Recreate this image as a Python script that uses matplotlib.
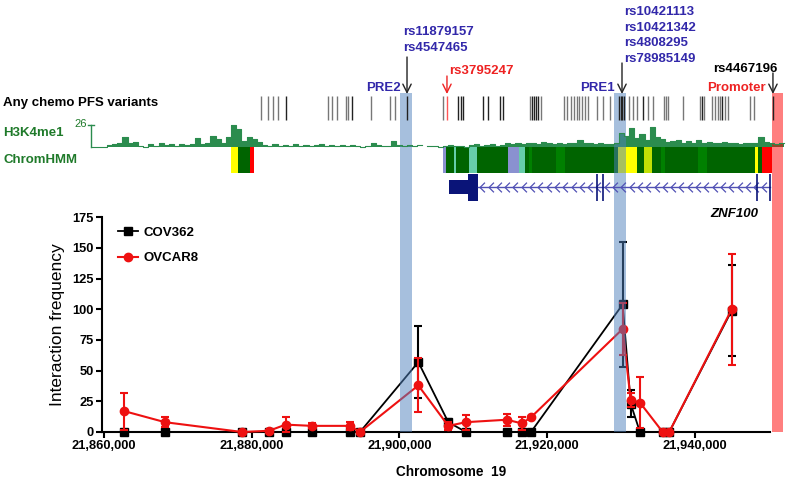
import matplotlib
matplotlib.use("Agg")
import matplotlib.pyplot as plt
import numpy as np
from matplotlib.patches import Rectangle
from matplotlib.path import Path
from matplotlib.ticker import FuncFormatter, MultipleLocator

plt.rcParams["font.family"] = ["Liberation Sans", "DejaVu Sans"]

W, H = 793, 483

# 3C interaction frequencies along chr19
positions = [21862750, 21868260, 21878690, 21882340, 21884600, 21888200, 21893310, 21894660,
             21902560, 21906620, 21909010, 21914530, 21916600, 21917820, 21930230, 21931320,
             21932570, 21935650, 21936540, 21944990]
cov362 = [0, 0, 0, 0, 0, 0, 0, 0, 57, 8, 0, 0, 0, 0, 104, 23, 0, 0, 0, 99]
cov362_err = [0, 0, 0, 0, 0, 0, 0, 0, 29, 3, 0, 0, 0, 0, 51, 11, 0, 0, 0, 37]
ovcar8 = [17, 8, 0, 1, 6, 5, 5, 0, 38, 5, 8, 10, 7, 12, 84, 26, 24, 0, 0, 100]
ovcar8_err = [15, 4, 0, 1, 6, 2, 3, 0, 22, 3, 6, 5, 5, 0, 21, 6, 21, 0, 0, 45]

# variant track
pfs_variants_grey = [21881260, 21882210, 21882880, 21883560, 21890330, 21890870, 21891550, 21892770,
                     21893040, 21896150, 21898720, 21899400, 21905900, 21917680, 21919170, 21922280,
                     21922690, 21923230, 21923640, 21924040, 21924320, 21924720, 21925130, 21925530,
                     21926750, 21927560, 21928510, 21931080, 21931630, 21932170, 21933660, 21934330,
                     21935820, 21936090, 21936370, 21938400, 21940700, 21941240, 21942320, 21942730,
                     21943140, 21943410, 21944080, 21944490, 21947470, 21948010]
pfs_variants_black = [21884640, 21893580, 21901030, 21907930, 21908340, 21908610, 21911320, 21911990,
                      21913620, 21914020, 21917950, 21918220, 21918490, 21918760, 21929730, 21930000,
                      21930140, 21930410, 21932980, 21940970, 21943680, 21950580]
rs3795247_pos = 21906440

pre2_snps = ["rs11879157", "rs4547465"]
pre2_snp_pos = 21901030
pre1_snps = ["rs10421113", "rs10421342", "rs4808295", "rs78985149"]
pre1_snp_pos = 21930140
rs4467196_pos = 21950580

pre2_band = (21900080, 21901700)
pre1_band = (21928990, 21930680)
promoter_band = (21950410, 21951980)

# H3K4me1 signal, 700 bp bins
h3k4me1_start = 21858300
h3k4me1_bin = 700
h3k4me1 = [0, 0, 0, 2, 3, 5, 12, 4, 6, 1,
           0, 3, 1, 4, 2, 3, 1, 3, 2, 3,
           11, 3, 5, 13, 9, 4, 12, 26, 21, 7,
           12, 9, 6, 2, 1, 3, 1, 2, 1, 3,
           1, 2, 1, 2, 3, 1, 2, 1, 2, 1,
           2, 1, 0, 1, 4, 2, 1, 1, 7, 2,
           1, 2, 1, 2, None, 1, 1, 0, 1, 2,
           1, 1, 0, 2, 3, 1, 2, 3, 1, 2,
           4, 3, 5, 3, 4, 5, 3, 6, 4, 3,
           5, 3, 5, 4, 8, 5, 4, 3, 5, 3,
           3, 5, 16, 13, 22, 10, 15, 8, 24, 12,
           9, 6, 7, 8, 5, 7, 5, 8, 4, 6,
           5, 4, 6, 4, 5, 3, 5, 4, 5, 12,
           6, 4, 3, 4]
h3k4me1_max = 26

# ChromHMM segments
chromhmm_start = [21877155, 21878144, 21879728, 21905940, 21906270, 21907430, 21907660, 21909420,
                  21910500, 21914700, 21916260, 21917000, 21917550, 21917990, 21921160, 21922420,
                  21929640, 21932210, 21933160, 21934160, 21935420, 21935960, 21940470, 21941610,
                  21948150, 21948510, 21949130]
chromhmm_end = chromhmm_start[1:3] + [21880269] + chromhmm_start[4:] + [21950410]
chromhmm_state = ["Enh", "TxWk", "TssA", "Het", "TxWk", "ZNF", "TxWk", "ZNF",
                  "TxWk", "Het", "ZNF", "TxWk", "Tx", "TxWk", "Tx", "TxWk",
                  "Enh", "TxWk", "EnhG", "TxWk", "Tx", "TxWk", "Tx", "TxWk",
                  "Enh", "TxWk", "TssA"]
state_colors = {"TssA": "#ff0000", "Tx": "#008000", "TxWk": "#006400", "EnhG": "#c2e105",
                "Enh": "#ffff00", "ZNF": "#66cdaa", "Het": "#8a91d0"}

# ZNF100 gene model (minus strand)
znf100_utr = (21906710, 21909330)
znf100_exon = (21909330, 21910680)
znf100_thin_exons = [21926710, 21927605, 21948380, 21950180]
znf100_end = 21950180

GREEN = "#1f7a2a"
SIG_GREEN = "#2b8c4e"
BLUE_TXT = "#3228aa"
RED_TXT = "#ee2222"
NAVY = "#0a1478"

fig = plt.figure(figsize=(W / 100, H / 100), dpi=100)
ax = fig.add_axes([102 / W, 1 - 432 / H, 668 / W, 214.7 / H])


def fxy(px, py):
    return px / W, 1 - py / H


# --- main interaction plot ---
ax.errorbar(positions, cov362, yerr=cov362_err, fmt="none", ecolor="black",
            elinewidth=1.5, capsize=2.6, capthick=1.5, zorder=3)
l1, = ax.plot(positions, cov362, "-s", color="black", lw=1.3, ms=5.8, label="COV362", zorder=3)
ax.errorbar(positions, ovcar8, yerr=ovcar8_err, fmt="none", ecolor="#ee1111",
            elinewidth=1.5, capsize=2.6, capthick=1.5, zorder=4)
l2, = ax.plot(positions, ovcar8, "-o", color="#ee1111", lw=1.5, ms=6, label="OVCAR8", zorder=4)
for art in ax.lines + ax.collections:
    art.set_clip_on(False)

ax.set_xlim(21859730, 21950180)
ax.set_ylim(0, 175)
ax.yaxis.set_major_locator(MultipleLocator(25))
ax.xaxis.set_major_locator(MultipleLocator(20000))
ax.xaxis.set_major_formatter(FuncFormatter(lambda v, p: f"{v:,.0f}"))
for s in ["top", "right"]:
    ax.spines[s].set_visible(False)
for s in ["left", "bottom"]:
    ax.spines[s].set_linewidth(1.5)
ax.tick_params(width=1.5, length=4, labelsize=9.3, pad=2)
for lab in ax.get_xticklabels() + ax.get_yticklabels():
    lab.set_fontweight("bold")
ax.patch.set_alpha(0)

ax.set_ylabel("Interaction frequency", fontsize=12.5, va="center")
ax.yaxis.set_label_coords((58 - 102) / 668, 0.5)
ax.set_xlabel("Chromosome  19", fontsize=9.8, fontweight="bold", va="center")
ax.xaxis.set_label_coords((451 - 102) / 668, (432 - 472) / 214.7)

ax.legend(handles=[l1, l2], loc="upper left", bbox_to_anchor=(0.024, 0.957), frameon=False,
          borderpad=0, borderaxespad=0, handlelength=1.5, handletextpad=0.4, labelspacing=1.0,
          prop={"weight": "bold", "size": 9.5})

# --- overlay for genome tracks (x in bp, y in pixels from top) ---
x0, x1 = ax.get_xlim()
bpp = (x1 - x0) / 668
trk = fig.add_axes([0, 0, 1, 1], zorder=5)
trk.set_xlim(x0 - 102 * bpp, x1 + (W - 770) * bpp)
trk.set_ylim(H, 0)
trk.axis("off")

# variants
trk.vlines(pfs_variants_grey, 96, 120, color="#777777", lw=1.0)
trk.vlines(pfs_variants_black, 96, 120, color="#222222", lw=1.0)
trk.vlines([rs3795247_pos], 96, 120, color="#ff5555", lw=1.0)

# H3K4me1
base = 146.7
scale = 21.7 / h3k4me1_max
vals = np.array([np.nan if v is None else v for v in h3k4me1], dtype=float)
edges = h3k4me1_start + h3k4me1_bin * np.arange(len(vals) + 1)
yv = np.append(vals, vals[-1])
top = base - yv * scale
ok = ~np.isnan(yv)
trk.fill_between(edges, base, np.where(ok, top, base), where=ok, step="post", color=SIG_GREEN, lw=0)
trk.step(edges, top, where="post", color=SIG_GREEN, lw=0.8)
trk.plot([h3k4me1_start, h3k4me1_start], [125, base], color=SIG_GREEN, lw=1.0)
trk.plot([h3k4me1_start - 3 * bpp, h3k4me1_start + 3 * bpp], [125, 125], color=SIG_GREEN, lw=1.0)

# ChromHMM
for s, e, st in zip(chromhmm_start, chromhmm_end, chromhmm_state):
    trk.add_patch(Rectangle((s, 147), e - s, 26, color=state_colors[st], lw=0))

# gene model
trk.add_patch(Rectangle((znf100_utr[0], 180), znf100_utr[1] - znf100_utr[0], 13.5, color=NAVY, lw=0))
trk.add_patch(Rectangle((znf100_exon[0], 174), znf100_exon[1] - znf100_exon[0], 27, color=NAVY, lw=0))
trk.plot([znf100_exon[1], znf100_end], [187, 187], color="#5050b4", lw=1.0)
chev = Path([(0.5, 1), (-0.5, 0), (0.5, -1)], [Path.MOVETO, Path.LINETO, Path.LINETO])
chev_x = np.arange(znf100_exon[1] + 4 * bpp, znf100_end - 3 * bpp, 8.3 * bpp)
trk.plot(chev_x, np.full(len(chev_x), 187), ls="none", marker=chev, ms=7, mfc="none",
         mec="#5050b4", mew=0.9)
trk.vlines(znf100_thin_exons, 174, 201, color=NAVY, lw=1.2)

# highlighted regions
for (s, e), c in [(pre2_band, "#4f81bd"), (pre1_band, "#4f81bd"), (promoter_band, "#ff0000")]:
    trk.add_patch(Rectangle((s, 93), e - s, 432 - 93, color=c, alpha=0.5, lw=0))

# arrows
for pos, ytop, col in [(pre2_snp_pos, 57, "#222222"), (rs3795247_pos, 76, RED_TXT),
                       (pre1_snp_pos, 63, "#222222"), (rs4467196_pos, 73, "#222222")]:
    trk.annotate("", xy=(pos, 94), xytext=(pos, ytop),
                 arrowprops=dict(arrowstyle="->,head_width=0.25,head_length=0.5",
                                 color=col, lw=1.0, mutation_scale=12, shrinkA=0, shrinkB=0))

# labels
bold = dict(fontsize=9.5, fontweight="bold", va="center")
fig.text(*fxy(3, 103), "Any chemo PFS variants", color="black", ha="left", **bold)
fig.text(*fxy(3, 133), "H3K4me1", color=GREEN, ha="left", **bold)
fig.text(*fxy(3, 160), "ChromHMM", color=GREEN, ha="left", **bold)
fig.text(*fxy(87, 124), "26", color=GREEN, ha="right", va="center", fontsize=8)
fig.text(*fxy(366, 88), "PRE2", color=BLUE_TXT, ha="left", **bold)
fig.text(*fxy(580, 88), "PRE1", color=BLUE_TXT, ha="left", **bold)
fig.text(*fxy(707, 88), "Promoter", color=RED_TXT, ha="left", **bold)
for i, name in enumerate(pre2_snps):
    fig.text(*fxy(403, 32 + 16 * i), name, color=BLUE_TXT, ha="left", **bold)
for i, name in enumerate(pre1_snps):
    fig.text(*fxy(624, 12 + 15.7 * i), name, color=BLUE_TXT, ha="left", **bold)
fig.text(*fxy(449, 71), "rs3795247", color=RED_TXT, ha="left", **bold)
fig.text(*fxy(713, 69), "rs4467196", color="black", ha="left", **bold)
fig.text(*fxy(758, 214), "ZNF100", color="black", ha="right", fontstyle="italic", **bold)

fig.savefig("out.png", dpi=100)
